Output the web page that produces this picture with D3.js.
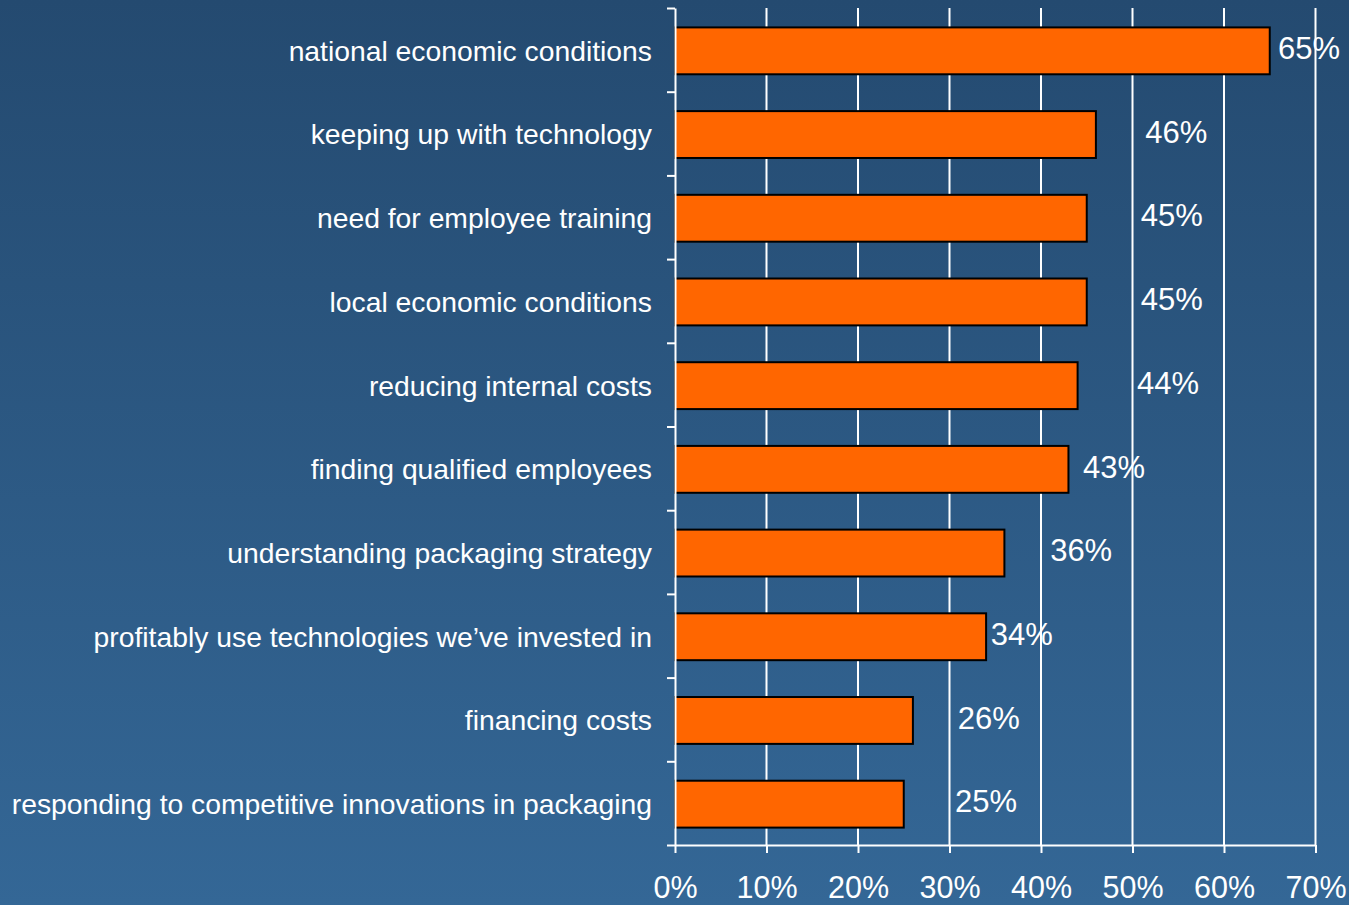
<!DOCTYPE html>
<html>
<head>
<meta charset="utf-8">
<script src="https://d3js.org/d3.v7.min.js"></script>
<style>
  html, body { margin: 0; padding: 0; background: #2b5883; }
  svg { display: block; }
  text { font-family: "Liberation Sans", Arial, sans-serif; fill: #ffffff; }
</style>
</head>
<body>
<svg id="chart" width="1349" height="905"></svg>
<script>
// Share of respondents naming each issue as a concern
const categories = [
  "national economic conditions",
  "keeping up with technology",
  "need for employee training",
  "local economic conditions",
  "reducing internal costs",
  "finding qualified employees",
  "understanding packaging strategy",
  "profitably use technologies we\u2019ve invested in",
  "financing costs",
  "responding to competitive innovations in packaging"
];
const values = [65, 46, 45, 45, 44, 43, 36, 34, 26, 25];
// Where each value label starts, in percentage points along the axis
const labelAt = [65.9, 51.4, 50.9, 50.9, 50.5, 44.6, 41.0, 34.5, 30.9, 30.6];
const xTicks = [0, 10, 20, 30, 40, 50, 60, 70];

const svg = d3.select("#chart");
const W = 1349, H = 905;

// background gradient, dark navy at top to lighter blue at bottom
const defs = svg.append("defs");
const grad = defs.append("linearGradient")
  .attr("id", "bg").attr("x1", 0).attr("y1", 0).attr("x2", 0).attr("y2", 1);
grad.append("stop").attr("offset", "0%").attr("stop-color", "#244a70");
grad.append("stop").attr("offset", "100%").attr("stop-color", "#346796");
svg.append("rect").attr("width", W).attr("height", H).attr("fill", "url(#bg)");

const plotLeft = 675, plotRight = 1315.5, plotTop = 8, plotBottom = 845;

const x = d3.scaleLinear().domain([0, 70]).range([plotLeft, plotRight]);
const y = d3.scaleBand().domain(categories).range([plotTop, plotBottom]).paddingInner(0.44).paddingOuter(0.22);
const yEdge = d3.scaleLinear().domain([0, categories.length]).range([plotTop, plotBottom]);

// vertical gridlines
svg.append("g")
  .selectAll("line")
  .data(xTicks.slice(1))
  .join("line")
  .attr("x1", d => x(d)).attr("x2", d => x(d))
  .attr("y1", plotTop).attr("y2", plotBottom)
  .attr("stroke", "#ffffff").attr("stroke-width", 2);

// bars
svg.append("g")
  .selectAll("rect")
  .data(values)
  .join("rect")
  .attr("x", x(0))
  .attr("y", (d, i) => y(categories[i]) + 1)
  .attr("width", d => x(d) - x(0))
  .attr("height", y.bandwidth())
  .attr("fill", "#ff6600")
  .attr("stroke", "#000000")
  .attr("stroke-width", 2);

// left axis with ticks at category boundaries
const yAxis = svg.append("g")
  .attr("transform", `translate(${plotLeft},0)`)
  .call(d3.axisLeft(yEdge).tickValues(d3.range(0, categories.length + 1)).tickSize(8).tickSizeOuter(0).tickFormat(""));
yAxis.selectAll("path, line").attr("stroke", "#ffffff").attr("stroke-width", 2);

// bottom axis
const xAxis = svg.append("g")
  .attr("transform", `translate(0,${plotBottom})`)
  .call(d3.axisBottom(x).tickValues(xTicks).tickSize(8).tickSizeOuter(0).tickPadding(23).tickFormat(d => d + "%"));
xAxis.selectAll("path, line").attr("stroke", "#ffffff").attr("stroke-width", 2);
xAxis.selectAll("text")
  .attr("fill", "#ffffff")
  .style("font-size", "30.5px")
  .style("font-family", "'Liberation Sans', Arial, sans-serif");

// category labels
svg.append("g")
  .selectAll("text")
  .data(categories)
  .join("text")
  .attr("x", plotLeft - 23)
  .attr("y", d => y(d) + y.bandwidth() / 2 + 1)
  .attr("dy", "0.35em")
  .attr("text-anchor", "end")
  .style("font-size", "28.3px")
  .text(d => d);

// value labels
svg.append("g")
  .selectAll("text")
  .data(values)
  .join("text")
  .attr("x", (d, i) => x(labelAt[i]))
  .attr("y", (d, i) => y(categories[i]) + y.bandwidth() / 2 - 1)
  .attr("dy", "0.33em")
  .style("font-size", "31px")
  .text(d => d + "%");
</script>
</body>
</html>
